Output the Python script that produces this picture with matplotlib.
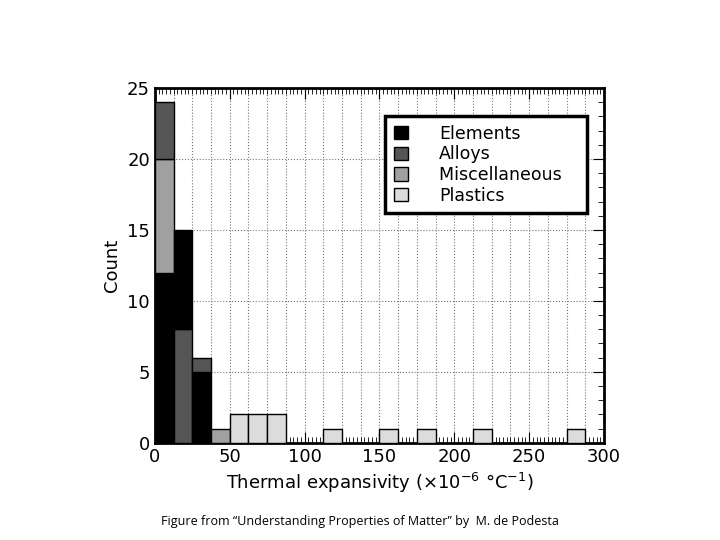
import matplotlib
matplotlib.use("Agg")
import matplotlib.pyplot as plt
import numpy as np
from matplotlib.ticker import MultipleLocator

bin_width = 12.5
bin_left = np.arange(0, 300, 12.5)
elements = [12, 7, 5, 0, 0, 0, 0, 0, 0, 0, 0, 0, 0, 0, 0, 0, 0, 0, 0, 0, 0, 0, 0, 0]
alloys   = [4, 8, 1, 0, 0, 0, 0, 0, 0, 0, 0, 0, 0, 0, 0, 0, 0, 0, 0, 0, 0, 0, 0, 0]
misc     = [8, 0, 0, 1, 0, 0, 0, 0, 0, 0, 0, 0, 0, 0, 0, 0, 0, 0, 0, 0, 0, 0, 0, 0]
plastics = [0, 0, 0, 0, 2, 2, 2, 0, 0, 1, 0, 0, 1, 0, 1, 0, 0, 1, 0, 0, 0, 0, 1, 0]
names = ["Elements", "Alloys", "Miscellaneous", "Plastics"]
colors = ["#000000", "#555555", "#a0a0a0", "#dcdcdc"]
series = [elements, alloys, misc, plastics]

fig = plt.figure(figsize=(7.2, 5.4), dpi=100)
ax = fig.add_axes([0.215, 0.180, 0.624, 0.657])
for i, x in enumerate(bin_left):
    vals = [(s[i], k) for k, s in enumerate(series) if s[i] > 0]
    vals.sort(key=lambda t: -t[0])
    bottom = 0
    for v, k in vals:
        ax.bar(x, v, width=bin_width, bottom=bottom, align="edge", color=colors[k],
               edgecolor="black", linewidth=1, zorder=3)
        bottom += v
for k in range(4):
    ax.bar(0, 0, color=colors[k], edgecolor="black", label=names[k])

ax.set_xlim(0, 300)
ax.set_ylim(0, 25)
ax.xaxis.set_major_locator(MultipleLocator(50))
ax.yaxis.set_major_locator(MultipleLocator(5))
ax.xaxis.set_minor_locator(MultipleLocator(2.5))
ax.yaxis.set_minor_locator(MultipleLocator(1))
ax.tick_params(which="both", direction="in", top=True, right=True, labelsize=13)
ax.tick_params(which="major", length=8)
ax.tick_params(which="minor", length=4)
for x in np.arange(12.5, 300, 12.5):
    ax.axvline(x, color="#777777", linestyle=":", linewidth=0.8, zorder=1)
for y in range(5, 25, 5):
    ax.axhline(y, color="#777777", linestyle=":", linewidth=0.8, zorder=1)
for s in ax.spines.values():
    s.set_linewidth(2)
ax.set_xlabel(r"Thermal expansivity ($\times10^{-6}$ °C$^{-1}$)", fontsize=13)
ax.set_ylabel("Count", fontsize=13)
leg = ax.legend(loc="upper right", bbox_to_anchor=(0.962, 0.921), fontsize=12.5,
                fancybox=False, framealpha=1, edgecolor="black", borderpad=0.5,
                borderaxespad=0, handlelength=0.8, handleheight=0.8,
                handletextpad=1.8, labelspacing=0.15)
leg._legend_box.align = "left"
leg.get_frame().set_linewidth(2.5)
leg.set_zorder(5)
# widen legend to match reference
fig.canvas.draw()
leg.set_bbox_to_anchor((0.962, 0.921))
for t in leg.get_texts():
    t.set_text(t.get_text())
leg.get_frame().set_width(leg.get_frame().get_width())
fig.text(0.5, 0.028, "Figure from \u201cUnderstanding Properties of Matter\u201d by  M. de Podesta",
         ha="center", fontsize=9, family="Open Sans")
leg._legend_handle_box.set_offset  # noop
leg.get_texts()[2].set_text("Miscellaneous   ")
fig.savefig("out.png", dpi=100)
